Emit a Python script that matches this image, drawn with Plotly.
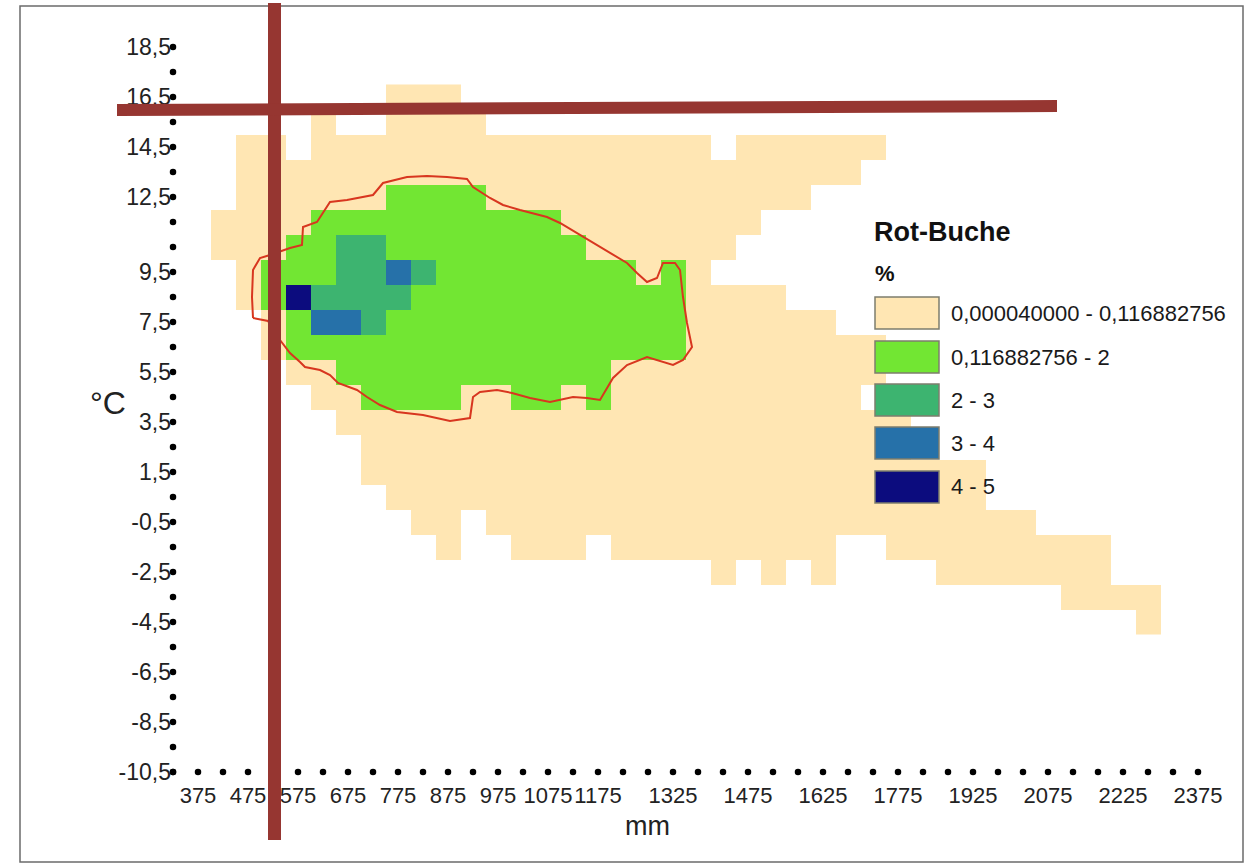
import plotly.graph_objects as go

# ---------------- data ----------------
PRECIP_MM = [375, 425, 475, 525, 575, 625, 675, 725, 775, 825, 875, 925, 975, 1025,
             1075, 1125, 1175, 1225, 1275, 1325, 1375, 1425, 1475, 1525, 1575, 1625,
             1675, 1725, 1775, 1825, 1875, 1925, 1975, 2025, 2075, 2125, 2175, 2225,
             2275, 2325, 2375]
TEMP_C = [16.5, 15.5, 14.5, 13.5, 12.5, 11.5, 10.5, 9.5, 8.5, 7.5, 6.5, 5.5, 4.5,
          3.5, 2.5, 1.5, 0.5, -0.5, -1.5, -2.5, -3.5, -4.5]
# one string per temperature row, one char per precipitation column
# '.' = no value, '0'..'4' = class index
GRID_ROWS = [
    "." * 8 + "0" * 3 + "." * 30,
    "." * 5 + "0" + ".." + "0" * 4 + "." * 29,
    ".." + "00" + "." + "0" * 16 + "." + "0" * 6 + "." * 13,
    ".." + "0" * 25 + "." * 14,
    ".." + "0" * 6 + "1" * 4 + "0" * 13 + "." * 16,
    "." + "0" * 4 + "1" * 10 + "0" * 8 + "." * 18,
    "." + "000" + "11" + "22" + "1" * 8 + "0" * 6 + "." * 19,
    ".." + "0" + "111" + "22" + "3" + "2" + "1" * 8 + "0" + "1" + "0" + "." * 20,
    ".." + "0" + "1" + "4" + "2222" + "1" * 11 + "0000" + "." * 17,
    "..." + "0" + "1" + "33" + "2" + "1" * 12 + "0" * 6 + "." * 15,
    "..." + "0" + "1" * 16 + "0" * 8 + "." * 13,
    "...." + "00" + "1" * 11 + "0" * 11 + "." * 13,
    "....." + "00" + "1111" + "00" + "11" + "0" + "1" + "0" * 10 + "." * 14,
    "." * 6 + "0" * 23 + "." * 12,
    "." * 7 + "0" * 22 + "." * 12,
    "." * 7 + "0" * 25 + "." * 9,
    "." * 8 + "0" * 24 + "." * 9,
    "." * 9 + "00" + "." + "0" * 22 + "." * 7,
    "." * 10 + "0" + ".." + "000" + "." + "0" * 9 + ".." + "0" * 9 + "." * 4,
    "." * 21 + "0" + "." + "0" + "." + "0" + "." * 4 + "0" * 7 + "." * 4,
    "." * 35 + "0000" + "..",
    "." * 38 + "0" + "..",
]
CLASS_LABELS = ["0,000040000 - 0,116882756", "0,116882756 - 2", "2 - 3", "3 - 4", "4 - 5"]
CLASS_COLORS = ["#FFE6B3", "#72E633", "#3DB470", "#2671A9", "#0C0C7E"]

X_TICKS = [375, 475, 575, 675, 775, 875, 975, 1075, 1175, 1325, 1475, 1625, 1775,
           1925, 2075, 2225, 2375]
Y_TICKS = [18.5, 16.5, 14.5, 12.5, 9.5, 7.5, 5.5, 3.5, 1.5, -0.5, -2.5, -4.5, -6.5,
           -8.5, -10.5]
X_DOTS_MM = [325 + 50 * i for i in range(42)]
Y_DOTS_C = [18.5 - i for i in range(30)]
AXIS_ORIGIN_MM = 325
AXIS_ORIGIN_C = -10.5

CONTOUR_MM = [485, 483, 485, 499, 519, 559, 583, 585, 613, 625, 639, 673, 725, 745, 793,
              833, 873, 913, 925, 959, 985, 1019, 1033, 1073, 1099, 1145, 1179, 1233,
              1253, 1273, 1293, 1305, 1329, 1339, 1345, 1353, 1363, 1355, 1345, 1325,
              1273, 1233, 1205, 1179, 1153, 1125, 1079, 1039, 1003, 973, 939, 925, 919,
              879, 825, 773, 739, 713, 693, 655, 639, 619, 589, 579, 559, 539, 515, 485]
CONTOUR_C = [7.66, 8.5, 9.58, 10.06, 10.18, 10.46, 10.58, 11.3, 11.5, 11.86, 12.3, 12.38,
             12.58, 13.06, 13.3, 13.34, 13.3, 13.22, 12.9, 12.46, 12.18, 11.98, 11.9,
             11.7, 11.46, 10.9, 10.5, 9.86, 9.46, 9.1, 9.26, 9.86, 9.86, 9.58, 8.5, 7.46,
             6.5, 6.26, 5.98, 5.78, 6.1, 5.78, 5.26, 4.38, 4.46, 4.5, 4.3, 4.46, 4.66,
             4.78, 4.7, 4.5, 3.66, 3.54, 3.78, 3.9, 4.18, 4.5, 4.78, 5.06, 5.38, 5.58,
             5.7, 5.9, 6.26, 6.78, 7.54, 7.66]

# hand-drawn marker lines (mm, °C)
MARK_V_MM = 528
MARK_V_C = (20.26, -13.22)
MARK_H_MM = (213, 2093)
MARK_H_C = (15.98, 16.14)

# ---------------- layout geometry ----------------
W, H = 1259, 865
ML, MR, MT, MB = 172, 19, 20, 90
X_RANGE = [323, 2459]
Y_RANGE = [-10.62, 19.58]
PW, PH = W - ML - MR, H - MT - MB


def xp(mm):
    return (mm - X_RANGE[0]) / (X_RANGE[1] - X_RANGE[0])


def yp(c):
    return (c - Y_RANGE[0]) / (Y_RANGE[1] - Y_RANGE[0])


def pxx(px):
    return (px - ML) / PW


def pxy(py):
    return (H - MB - py) / PH


z = []
for row in GRID_ROWS:
    row = row.ljust(len(PRECIP_MM), ".")[:len(PRECIP_MM)]
    z.append([None if ch == "." else int(ch) for ch in row])

n = len(CLASS_COLORS)
colorscale = []
for i, col in enumerate(CLASS_COLORS):
    colorscale.append([i / n, col])
    colorscale.append([(i + 1) / n, col])

fig = go.Figure()
fig.add_trace(go.Heatmap(x=PRECIP_MM, y=TEMP_C, z=z, colorscale=colorscale,
                         zmin=-0.5, zmax=n - 0.5, showscale=False, hoverinfo="skip"))
fig.add_trace(go.Scatter(x=CONTOUR_MM, y=CONTOUR_C, mode="lines",
                         line=dict(color="#D8361F", width=2), hoverinfo="skip",
                         showlegend=False))
fig.add_trace(go.Scatter(x=X_DOTS_MM, y=[AXIS_ORIGIN_C] * len(X_DOTS_MM), mode="markers",
                         marker=dict(color="black", size=6.5), cliponaxis=False,
                         hoverinfo="skip", showlegend=False))
fig.add_trace(go.Scatter(x=[AXIS_ORIGIN_MM] * len(Y_DOTS_C), y=Y_DOTS_C, mode="markers",
                         marker=dict(color="black", size=6.5), cliponaxis=False,
                         hoverinfo="skip", showlegend=False))

x_tick_font = dict(family="Liberation Sans Narrow, Arial Narrow, Liberation Sans, Arial, sans-serif",
                   size=22, color="#222222")
y_tick_font = dict(family="Liberation Sans Narrow, Arial Narrow, Liberation Sans, Arial, sans-serif",
                   size=23, color="#222222")
fig.update_xaxes(range=X_RANGE, showgrid=False, zeroline=False, showline=False, ticks="",
                 tickmode="array", tickvals=X_TICKS, ticktext=[str(v) for v in X_TICKS],
                 tickfont=x_tick_font, tickangle=0, ticklabelstandoff=5)
fig.update_yaxes(range=Y_RANGE, showgrid=False, zeroline=False, showline=False, ticks="",
                 tickmode="array", tickvals=Y_TICKS,
                 ticktext=[("%.1f" % v).replace(".", ",") for v in Y_TICKS],
                 tickfont=y_tick_font)

shapes = []
# frame
shapes.append(dict(type="rect", xref="paper", yref="paper", x0=pxx(20), x1=pxx(1243),
                   y0=pxy(862), y1=pxy(6), line=dict(color="#6b6b6b", width=1.5),
                   fillcolor="rgba(0,0,0,0)", layer="above"))
# marker lines
shapes.append(dict(type="line", xref="paper", yref="paper", x0=xp(MARK_V_MM), x1=xp(MARK_V_MM),
                   y0=yp(MARK_V_C[0]), y1=yp(MARK_V_C[1]),
                   line=dict(color="#963631", width=13), layer="above"))
shapes.append(dict(type="line", xref="paper", yref="paper", x0=xp(MARK_H_MM[0]), x1=xp(MARK_H_MM[1]),
                   y0=yp(MARK_H_C[0]), y1=yp(MARK_H_C[1]),
                   line=dict(color="#963631", width=12), layer="above"))

annotations = []
leg_font = dict(family="Liberation Sans, Arial, sans-serif", size=22, color="#1a1a1a")
patch_tops = [297, 341, 384, 427, 471]
for i, (lab, col) in enumerate(zip(CLASS_LABELS, CLASS_COLORS)):
    top = patch_tops[i]
    shapes.append(dict(type="rect", xref="paper", yref="paper", x0=pxx(875), x1=pxx(939),
                       y0=pxy(top + 32), y1=pxy(top), fillcolor=col,
                       line=dict(color="#7d7d6e", width=1.5), layer="above"))
    annotations.append(dict(xref="paper", yref="paper", x=pxx(949), y=pxy(top + 16),
                            text=lab, showarrow=False, xanchor="left", yanchor="middle",
                            font=leg_font))
annotations.append(dict(xref="paper", yref="paper", x=pxx(872), y=pxy(232),
                        text="<b>Rot-Buche</b>", showarrow=False, xanchor="left",
                        yanchor="middle",
                        font=dict(family="Liberation Sans, Arial, sans-serif", size=27,
                                  color="#111111")))
annotations.append(dict(xref="paper", yref="paper", x=pxx(873), y=pxy(273),
                        text="<b>%</b>", showarrow=False, xanchor="left", yanchor="middle",
                        font=dict(family="Liberation Sans, Arial, sans-serif", size=22,
                                  color="#111111")))
annotations.append(dict(xref="paper", yref="paper", x=pxx(108), y=pxy(403),
                        text="°C", showarrow=False, xanchor="center", yanchor="middle",
                        font=dict(family="Liberation Sans, Arial, sans-serif", size=32,
                                  color="#222222")))
annotations.append(dict(xref="paper", yref="paper", x=pxx(647), y=pxy(826),
                        text="mm", showarrow=False, xanchor="center", yanchor="middle",
                        font=dict(family="Liberation Sans, Arial, sans-serif", size=27,
                                  color="#222222")))

fig.update_layout(width=W, height=H, margin=dict(l=ML, r=MR, t=MT, b=MB, pad=0),
                  paper_bgcolor="white", plot_bgcolor="white", showlegend=False,
                  shapes=shapes, annotations=annotations)

fig.write_html("out.html", config={"displayModeBar": False},
               post_script="document.body.style.margin='0';document.body.style.overflow='hidden';")
